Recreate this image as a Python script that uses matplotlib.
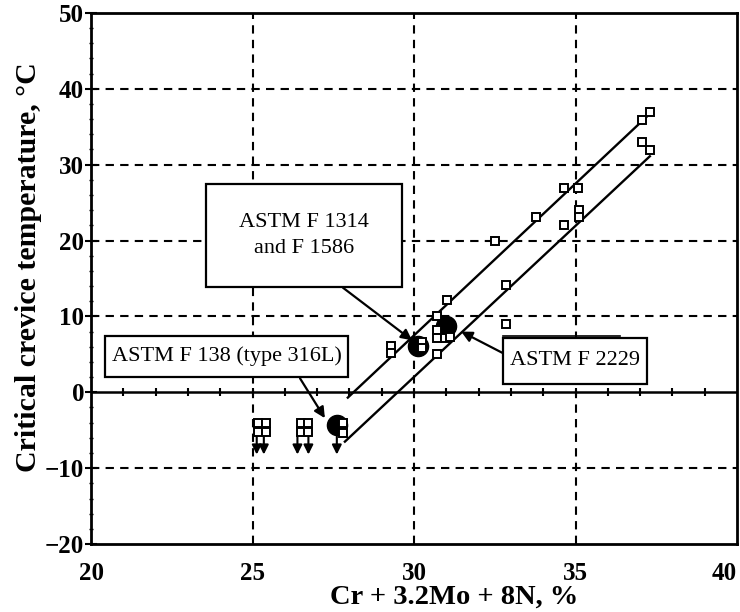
import numpy as np
import matplotlib
matplotlib.use("Agg")
import matplotlib.pyplot as plt
import matplotlib.patches as patches

plt.rcParams["font.family"] = ["Liberation Serif", "DejaVu Serif"]

# open squares: measured points
sq_x = [37.30, 37.06, 37.06, 37.30, 34.63, 35.07, 35.11, 35.11, 34.63, 33.77,
        32.52, 32.85, 31.03, 32.85, 30.72,
        29.28, 29.28, 30.24, 30.24, 30.72, 30.72, 30.96, 31.11, 30.72]
sq_y = [36.9, 35.9, 33.0, 31.9, 26.9, 26.9, 24.0, 23.1, 22.0, 23.1,
        20.0, 14.1, 12.2, 9.0, 10.0,
        6.1, 5.2, 6.6, 5.8, 8.2, 7.1, 7.1, 7.3, 5.1]

# points below detection (squares with down arrows)
low_x = [25.18, 25.42, 25.18, 25.42, 26.50, 26.73, 26.50, 26.73, 27.81, 27.81]
low_y = [-4.1, -4.1, -5.2, -5.2, -4.1, -4.1, -5.2, -5.2, -4.1, -5.3]
arrow_x = [25.13, 25.35, 26.39, 26.73, 27.61]
arrow_top = -5.6
arrow_tip = -8.2

# implant alloys (filled circles)
alloy_x = [30.13, 27.61, 31.00]
alloy_y = [6.1, -4.3, 8.8]

# scatter band lines
upper_line_x = [27.95, 37.2]
upper_line_y = [-0.7, 36.3]
lower_line_x = [27.86, 37.3]
lower_line_y = [-6.5, 31.1]

labels = ["ASTM F 1314\nand F 1586", "ASTM F 138 (type 316L)", "ASTM F 2229"]
# box corners (x0, y0, x1, y1) in data units
label_boxes = [(23.56, 13.91, 29.63, 27.43),
               (20.43, 1.97, 27.96, 7.48),
               (32.76, 1.05, 37.21, 7.22)]
pointer_from = [(27.80, 13.78), (26.47, 1.84), (32.77, 5.12)]
pointer_to = [(29.94, 6.85), (27.24, -3.41), (31.46, 8.0)]

fig = plt.figure(figsize=(7.4, 6.12), dpi=100)
ax = fig.add_axes([0.123, 0.111, 0.873, 0.868])

ax.set_xlim(20, 40)
ax.set_ylim(-20, 50)

for gx in [25, 30, 35]:
    ax.axvline(gx, color="black", lw=1.5, ls=(0, (4, 3)), zorder=1)
for gy in [-10, 10, 20, 30, 40]:
    ax.axhline(gy, color="black", lw=1.5, ls=(0, (4, 3)), zorder=1)

# zero line with unit ticks
ax.axhline(0, color="black", lw=1.8, zorder=2)
ax.plot(np.arange(21, 40), np.zeros(19), ls="none", marker="|",
        ms=6, mew=1.5, color="black", zorder=2)

ax.plot(upper_line_x, upper_line_y, color="black", lw=1.7, zorder=3)
ax.plot(lower_line_x, lower_line_y, color="black", lw=1.7, zorder=3)

for x in arrow_x:
    ax.annotate("", xy=(x, arrow_tip), xytext=(x, arrow_top),
                arrowprops=dict(arrowstyle="-|>", color="black", lw=1.5,
                                mutation_scale=14, shrinkA=0, shrinkB=0),
                zorder=3)

ax.plot(alloy_x, alloy_y, ls="none", marker="o", ms=14.5, color="black", zorder=4)
ax.plot(sq_x + low_x, sq_y + low_y, ls="none", marker="s", ms=5.5,
        mfc="white", mec="black", mew=1.4, zorder=5)

# label boxes and pointers
for text, (x0, y0, x1, y1), p0, p1 in zip(labels, label_boxes,
                                          pointer_from, pointer_to):
    ax.annotate("", xy=p1, xytext=p0,
                arrowprops=dict(arrowstyle="-|>", color="black", lw=1.6,
                                mutation_scale=16, shrinkA=0, shrinkB=0),
                zorder=6)
    ax.add_patch(patches.Rectangle((x0, y0), x1 - x0, y1 - y0, lw=1.6,
                                   edgecolor="black", facecolor="white",
                                   zorder=7, clip_on=False))
    ax.text((x0 + x1) / 2, (y0 + y1) / 2, text, ha="center", va="center",
            fontsize=16, linespacing=1.5, zorder=8)

# double line on top of the F 2229 box
ax.plot([32.76, 36.38], [7.45, 7.45], color="black", lw=1.2, zorder=8)

ax.set_xticks([20, 25, 30, 35, 40])
ax.set_yticks(np.arange(-20, 51, 10))
ax.set_yticks(np.arange(-20, 51, 2), minor=True)
ax.tick_params(axis="x", length=0, pad=13, labelsize=18)
ax.tick_params(axis="y", which="major", direction="inout", length=8,
               width=1.5, labelsize=18, pad=1)
ax.tick_params(axis="y", which="minor", direction="inout", length=3, width=1)
for lab in ax.get_xticklabels() + ax.get_yticklabels():
    lab.set_fontweight("bold")
ax.get_xticklabels()[-1].set_horizontalalignment("right")

for s in ax.spines.values():
    s.set_linewidth(2)

ax.set_xlabel("Cr + 3.2Mo + 8N, %", fontsize=20.5, fontweight="bold", labelpad=0)
ax.set_ylabel("Critical crevice temperature, °C", fontsize=21.5,
              fontweight="bold", labelpad=2)
ax.xaxis.label.set_x(0.562)
ax.yaxis.label.set_y(0.522)

fig.savefig("out.png", dpi=100)
